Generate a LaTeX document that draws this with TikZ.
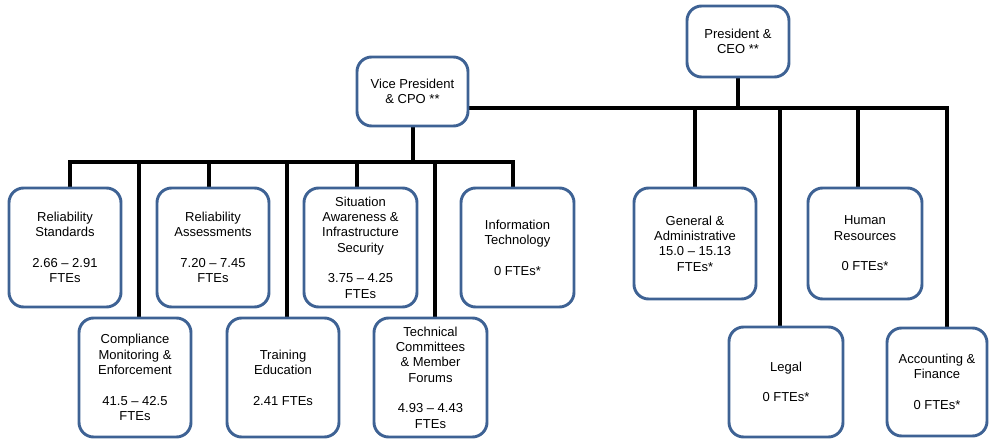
\documentclass[tikz,border=0pt]{standalone}
\usepackage{fontspec}
\setmainfont{Liberation Sans}
\usetikzlibrary{backgrounds}
\definecolor{bxblue}{RGB}{62,98,148}
\begin{document}
\begin{tikzpicture}[x=0.75pt,y=-0.75pt,
  box/.style={draw=bxblue, line width=2.2pt, rounded corners=11pt, fill=white,
    align=center, inner sep=0pt, font=\fontsize{9.75}{11.5}\selectfont},
  rowbox/.style={box, minimum width=84pt, minimum height=89.25pt},
  link/.style={line width=3pt, draw=black, line cap=rect}]
\useasboundingbox (0,0) rectangle (990,441);

% top level
\node[box, minimum width=76.5pt, minimum height=53.25pt] (ceo) at (738,41.5) {President \&\\CEO **};
\node[box, minimum width=83.25pt, minimum height=51.75pt] (vp) at (412.5,91.5) {Vice President\\\& CPO **};

% left top row
\node[rowbox] (rs) at (65,247.5) {Reliability\\Standards\\[11.5pt]2.66 – 2.91\\FTEs};
\node[rowbox] (ra) at (213,247.5) {Reliability\\Assessments\\[11.5pt]7.20 – 7.45\\FTEs};
\node[rowbox, minimum width=84.75pt] (sa) at (360.5,247.5) {Situation\\Awareness \&\\Infrastructure\\Security\\[11.5pt]3.75 – 4.25\\FTEs};
\node[rowbox, minimum width=84.75pt] (it) at (517.5,247.5) {Information\\Technology\\[11.5pt]0 FTEs*};

% left bottom row
\node[rowbox] (cme) at (135,377.5) {Compliance\\Monitoring \&\\Enforcement\\[11.5pt]41.5 – 42.5\\FTEs};
\node[rowbox] (te) at (283,377.5) {Training\\Education\\[11.5pt]2.41 FTEs};
\node[rowbox, minimum width=84.75pt] (tc) at (430.5,377.5) {Technical\\Committees\\\& Member\\Forums\\[11.5pt]4.93 – 4.43\\FTEs};

% right side
\node[box, minimum width=91.5pt, minimum height=83.25pt] (ga) at (695,243.5) {General \&\\Administrative\\15.0 – 15.13\\FTEs*};
\node[box, minimum width=85.5pt, minimum height=83.25pt] (hr) at (865,243.5) {Human\\Resources\\[11.5pt]0 FTEs*};
\node[box, minimum width=85.5pt, minimum height=82.5pt] (lg) at (786,382) {Legal\\[11.5pt]0 FTEs*};
\node[box, minimum width=75pt, minimum height=81pt] (af) at (937,382) {Accounting \&\\Finance\\[11.5pt]0 FTEs*};

% bus coordinates
\coordinate (d1) at (70,162);
\coordinate (d2) at (139,162);
\coordinate (d3) at (209,162);
\coordinate (d4) at (287,162);
\coordinate (d5) at (357,162);
\coordinate (d6) at (435,162);
\coordinate (d7) at (513,162);
\coordinate (r1) at (695,108);
\coordinate (r2) at (780,108);
\coordinate (r3) at (858,108);
\coordinate (r4) at (947,108);

\begin{scope}[on background layer]
  % VP bus
  \draw[link] (vp.south) -- (vp.south |- d1);
  \draw[link] (d1) -- (d7);
  \draw[link] (d1) -- (d1 |- rs.north);
  \draw[link] (d2) -- (d2 |- cme.north);
  \draw[link] (d3) -- (d3 |- ra.north);
  \draw[link] (d4) -- (d4 |- te.north);
  \draw[link] (d5) -- (d5 |- sa.north);
  \draw[link] (d6) -- (d6 |- tc.north);
  \draw[link] (d7) -- (d7 |- it.north);
  % CEO bus
  \draw[link] (ceo.south) -- (ceo.south |- r1);
  \draw[link] (vp.east |- r1) -- (r4);
  \draw[link] (r1) -- (r1 |- ga.north);
  \draw[link] (r2) -- (r2 |- lg.north);
  \draw[link] (r3) -- (r3 |- hr.north);
  \draw[link] (r4) -- (r4 |- af.north);
\end{scope}
\end{tikzpicture}
\end{document}
